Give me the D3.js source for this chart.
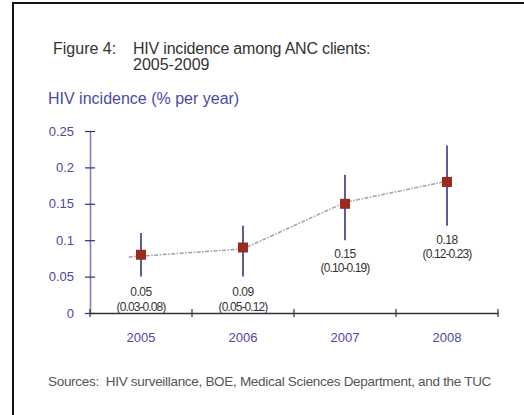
<!DOCTYPE html>
<html>
<head>
<meta charset="utf-8">
<script src="https://cdn.jsdelivr.net/npm/d3@7"></script>
<style>
  body { margin: 0; background: #fff; }
  svg { display: block; font-family: "Liberation Sans", Arial, sans-serif; }
</style>
</head>
<body>
<div id="chart"></div>
<script>
const years = ["2005", "2006", "2007", "2008"];
// values as plotted (square markers)
const incidence = [0.08, 0.09, 0.15, 0.18];
const lower = [0.05, 0.05, 0.10, 0.12];
const upper = [0.11, 0.12, 0.19, 0.23];
// printed labels under each point
const labelValue = ["0.05", "0.09", "0.15", "0.18"];
const labelRange = ["(0.03-0.08)", "(0.05-0.12)", "(0.10-0.19)", "(0.12-0.23)"];
// dashed trend line
const trendX = [2004.88, 2006, 2007, 2008];
const trendY = [0.077, 0.088, 0.152, 0.181];
const yTicks = [0, 0.05, 0.1, 0.15, 0.2, 0.25];

const w = 524;
const h = 415;
const margin = { top: 131, right: 26, bottom: 102, left: 90 };

const svg = d3.select("#chart").append("svg")
  .attr("width", w)
  .attr("height", h);

// frame, runs off the right and bottom edge
svg.append("rect")
  .attr("x", 13).attr("y", 3)
  .attr("width", 600).attr("height", 500)
  .attr("fill", "none")
  .attr("stroke", "#111")
  .attr("stroke-width", 2);

const xScale = d3.scaleBand()
  .domain(years)
  .range([margin.left, w - margin.right]);

const xLin = d3.scaleLinear()
  .domain([2004.5, 2008.5])
  .range([margin.left, w - margin.right]);

const yScale = d3.scaleLinear()
  .domain([0, 0.25])
  .range([h - margin.bottom, margin.top]);

// titles
svg.append("text").attr("x", 53).attr("y", 54)
  .attr("font-size", 16).attr("fill", "#333")
  .text("Figure 4:");
svg.append("text").attr("x", 133).attr("y", 54)
  .attr("font-size", 16).attr("fill", "#333").attr("letter-spacing", -0.2)
  .text("HIV incidence among ANC clients:");
svg.append("text").attr("x", 133).attr("y", 70)
  .attr("font-size", 16).attr("fill", "#333")
  .text("2005-2009");

svg.append("text").attr("x", 48).attr("y", 104)
  .attr("font-size", 16).attr("fill", "#4a4aa8")
  .text("HIV incidence (% per year)");

// y axis
const yAxis = d3.axisLeft(yScale)
  .tickValues(yTicks)
  .tickSize(0)
  .tickPadding(16)
  .tickFormat(d => d === 0 ? "0" : String(d));

const gy = svg.append("g")
  .attr("transform", `translate(${margin.left},0)`)
  .call(yAxis);
gy.select(".domain").attr("stroke", "#8080bc").attr("stroke-width", 1.6);
gy.selectAll(".tick text").attr("font-size", 13).attr("fill", "#4a4aa0")
  .attr("font-family", "Liberation Sans, Arial, sans-serif");
gy.selectAll(".tick").append("line")
  .attr("x1", -5).attr("x2", 5)
  .attr("stroke", "#30306e").attr("stroke-width", 1.2);

// x axis
const xAxis = d3.axisBottom(xScale).tickSize(0).tickPadding(20);
const gx = svg.append("g")
  .attr("transform", `translate(0,${h - margin.bottom})`)
  .call(xAxis);
gx.select(".domain").attr("stroke", "#333").attr("stroke-width", 1.5);
gx.selectAll(".tick text").attr("font-size", 13).attr("fill", "#4a4aa8")
  .attr("font-family", "Liberation Sans, Arial, sans-serif");

const boundaries = years.map(d => xScale(d)).concat([xScale.range()[1]]);
gx.selectAll(".sep").data(boundaries).enter().append("line")
  .attr("class", "sep")
  .attr("x1", d => d).attr("x2", d => d)
  .attr("y1", -4).attr("y2", 4)
  .attr("stroke", "#333").attr("stroke-width", 1.2);

// trend line
const line = d3.line()
  .x((d, i) => xLin(trendX[i]))
  .y(d => yScale(d));

svg.append("path")
  .datum(trendY)
  .attr("d", line)
  .attr("fill", "none")
  .attr("stroke", "#a0a0a0")
  .attr("stroke-width", 1.5)
  .attr("stroke-dasharray", "4,1.5,1.5,1.5");

// error bars
svg.selectAll(".err").data(years).enter().append("line")
  .attr("class", "err")
  .attr("x1", d => xScale(d) + xScale.bandwidth() / 2)
  .attr("x2", d => xScale(d) + xScale.bandwidth() / 2)
  .attr("y1", (d, i) => yScale(lower[i]))
  .attr("y2", (d, i) => yScale(upper[i]))
  .attr("stroke", "#34348a")
  .attr("stroke-width", 1.6);

// markers
svg.selectAll(".pt").data(years).enter().append("rect")
  .attr("class", "pt")
  .attr("x", d => xScale(d) + xScale.bandwidth() / 2 - 5)
  .attr("y", (d, i) => yScale(incidence[i]) - 5)
  .attr("width", 10).attr("height", 10)
  .attr("fill", "#9c2b1c");

// value labels: near the axis for the first two, below the bar for the last two
svg.selectAll(".lv").data(years).enter().append("text")
  .attr("class", "lv")
  .attr("x", d => xScale(d) + xScale.bandwidth() / 2)
  .attr("y", (d, i) => i < 2 ? 296 : yScale(lower[i]) + 18)
  .attr("text-anchor", "middle")
  .attr("font-size", 12).attr("letter-spacing", -0.5)
  .attr("fill", "#333")
  .text((d, i) => labelValue[i]);

svg.selectAll(".lr").data(years).enter().append("text")
  .attr("class", "lr")
  .attr("x", d => xScale(d) + xScale.bandwidth() / 2)
  .attr("y", (d, i) => i < 2 ? 311 : yScale(lower[i]) + 32)
  .attr("text-anchor", "middle")
  .attr("font-size", 12).attr("letter-spacing", -0.9)
  .attr("fill", "#333")
  .text((d, i) => labelRange[i]);

// source
svg.append("text").attr("x", 48).attr("y", 386)
  .attr("font-size", 13.5).attr("letter-spacing", -0.3)
  .attr("fill", "#555")
  .attr("xml:space", "preserve")
  .text("Sources:  HIV surveillance, BOE, Medical Sciences Department, and the TUC");
</script>
</body>
</html>
